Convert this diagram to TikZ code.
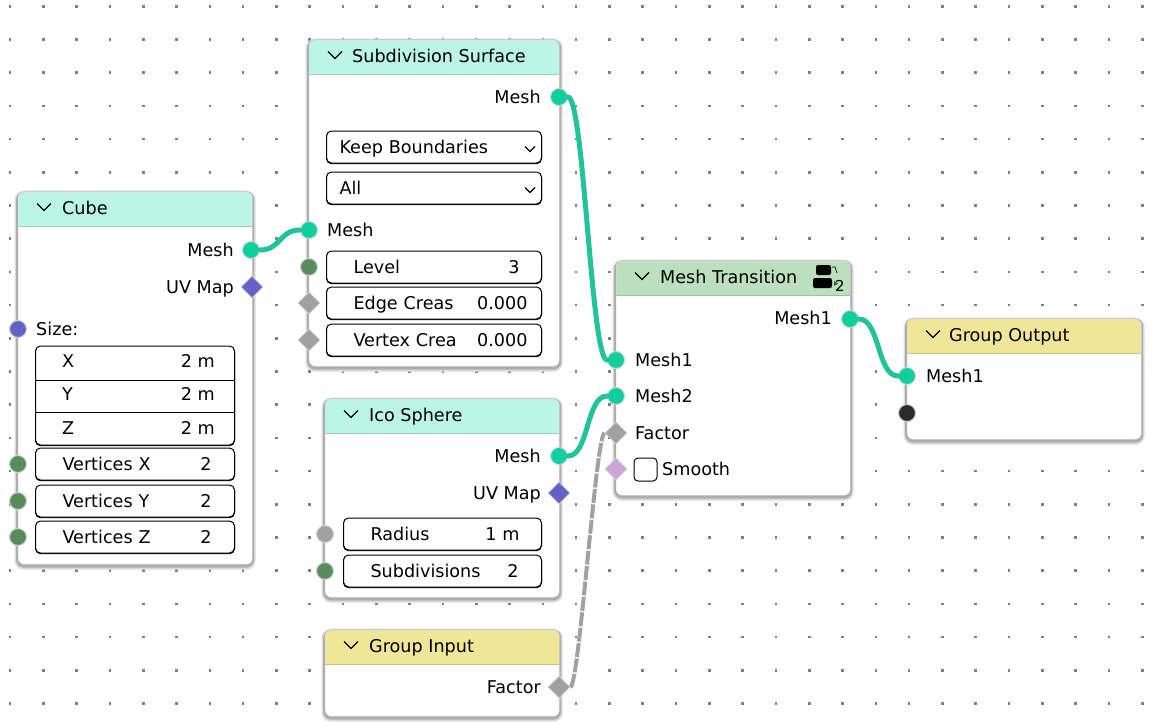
\documentclass[tikz,border=0pt]{standalone}
\usepackage{fontspec}
\setmainfont{DejaVu Sans}
\usetikzlibrary{shapes.geometric}
\definecolor{headteal}{HTML}{BAF5E5}
\definecolor{headgreen}{HTML}{BCE0BE}
\definecolor{headyellow}{HTML}{F0E69A}
\definecolor{sockmesh}{HTML}{10CF9F}
\definecolor{sockuv}{HTML}{6363C7}
\definecolor{sockint}{HTML}{598C5C}
\definecolor{sockfloat}{HTML}{A1A1A1}
\definecolor{sockbool}{HTML}{CCA6D6}
\definecolor{sockvirt}{HTML}{2B2B2B}
\newcommand{\fieldrow}[4]{\hspace*{#1pt}#2\hfill #3\hspace*{#4pt}\null}
\begin{document}
\begin{tikzpicture}[
        x=1pt,
        y=-1pt,
        font=\fontsize{17.6}{20}\selectfont
    ]
    \tikzset{
        panel/.style = {rectangle, anchor=north west, inner sep=0pt, rounded corners=6pt, draw=black!12, fill=white, minimum width=234pt,
            preaction={draw=black!14, line width=7pt, transform canvas={yshift=-2pt}},
            preaction={draw=black!32, line width=4pt, transform canvas={yshift=-1.5pt}},
            path picture={\fill[#1, sharp corners] (path picture bounding box.north west) rectangle ([yshift=-34pt]path picture bounding box.north east);
                \draw[#1!85!black, sharp corners] ([yshift=-34pt]path picture bounding box.north west) -- ([yshift=-34pt]path picture bounding box.north east);}},
        title/.style = {anchor=west, inner sep=0pt, text height=15pt, text depth=2pt},
        lab/.style = {anchor=west, inner sep=0pt, text height=15pt, text depth=2pt},
        labr/.style = {anchor=east, inner sep=0pt, text height=15pt, text depth=2pt},
        fieldbox/.style = {rectangle, anchor=west, draw=black, fill=white, rounded corners=5pt, line width=1pt, inner xsep=0pt, inner ysep=0pt, minimum height=32pt, text height=15pt, text depth=2pt,
            preaction={draw=black, line width=1pt, transform canvas={yshift=-0.7pt}}},
        sock/.style = {circle, inner sep=0pt, minimum size=17pt, draw=gray!35, line width=1pt, fill=#1},
        sockd/.style = {diamond, inner sep=0pt, minimum size=22pt, draw=gray!35, line width=0.8pt, fill=#1},
        wire/.style = {line width=5pt, color=sockmesh!85!gray, line cap=round},
        wireg/.style = {line width=4pt, color=sockfloat, dash pattern=on 14pt off 1.5pt},
        griddot/.style = {fill=black!50},
        chev/.pic = {\draw[line width=1.1pt] (-7,-3.5) -- (0,3.5) -- (7,-3.5);},
        chevs/.pic = {\draw[line width=1.2pt] (-5,-2.5) -- (0,2.5) -- (5,-2.5);},
    }
    \useasboundingbox (0,0) rectangle (1156,726);
    \fill[white] (0,0) rectangle (1156,726);
    % grid
    \foreach \k in {0,...,34}
        \foreach \j in {0,...,21}
            \fill[griddot] ({10+33.3*\k-1.3},{6.2+33.2*\j-1.3}) rectangle +(2.6,2.6);
    % panels
    \node[panel=headteal, minimum height=372pt] at (18,192) (cube) {};
    \node[panel=headteal, minimum width=250pt, minimum height=326pt] at (309,40) (subsurf) {};
    \node[panel=headteal, minimum height=198pt] at (325,399) (ico) {};
    \node[panel=headyellow, minimum height=86pt] at (325,630) (input) {};
    \node[panel=headgreen, minimum height=234pt] at (616,261) (trans) {};
    \node[panel=headyellow, minimum height=120pt] at (907,319) (output) {};
    % titles
    \pic at (44,207) {chev};
    \node[title] at (62,208) (cubet) {Cube};
    \pic at (335,55) {chev};
    \node[title] at (352,56) (subsurft) {Subdivision Surface};
    \pic at (351,414) {chev};
    \node[title] at (369,415) (icot) {Ico Sphere};
    \pic at (351,645) {chev};
    \node[title] at (369,646) (inputt) {Group Input};
    \pic at (642,276) {chev};
    \node[title] at (660,277) (transt) {Mesh Transition};
    \pic at (933,334) {chev};
    \node[title] at (949,335) (outputt) {Group Output};
    % stack icon
    \fill[black, rounded corners=2pt] (816,265) rectangle (831,275);
    \fill[black, rounded corners=2pt] (813,278) rectangle (832,288);
    \draw[line width=0.7pt] (832,267) -- (835,267) -- (837,273);
    \fill[black!70] (834,281) -- (838,283.5) -- (834,286) -- cycle;
    \node[inner sep=0pt, font=\fontsize{15}{16}\selectfont] at (840,285.5) (stackn) {2};
    % cube
    \node[labr] at (234,250) (cubemesh) {Mesh};
    \node[labr] at (234,287) (cubeuv) {UV Map};
    \node[lab] at (36,329) (cubesize) {Size:};
    \node[fieldbox, text width=199pt, minimum height=99pt] at (35,395.5) (cubexyz) {};
    \draw[line width=1pt] (35,380) -- (234,380);
    \draw[line width=1pt] (35,412) -- (234,412);
    \node[lab] at (62,361) (cubex) {X};
    \node[labr] at (215,361) (cubexv) {2 m};
    \node[lab] at (62,394) (cubey) {Y};
    \node[labr] at (215,394) (cubeyv) {2 m};
    \node[lab] at (62,428) (cubez) {Z};
    \node[labr] at (215,428) (cubezv) {2 m};
    \node[fieldbox, text width=199pt] at (35,464) (cubevx) {\fieldrow{27}{Vertices X}{2}{23}};
    \node[fieldbox, text width=199pt] at (35,501) (cubevy) {\fieldrow{27}{Vertices Y}{2}{23}};
    \node[fieldbox, text width=199pt] at (35,537) (cubevz) {\fieldrow{27}{Vertices Z}{2}{23}};
    % subdivision surface
    \node[labr] at (541,97) (subout) {Mesh};
    \node[fieldbox, text width=215pt] at (326,147) (subkeep) {\hspace*{13pt}Keep Boundaries};
    \pic at (530,149) {chevs};
    \node[fieldbox, text width=215pt] at (326,188) (suball) {\hspace*{13pt}All};
    \pic at (530,190) {chevs};
    \node[lab] at (327,230) (subin) {Mesh};
    \node[fieldbox, text width=215pt] at (326,267) (sublevel) {\fieldrow{27}{Level}{3}{22}};
    \node[fieldbox, text width=215pt] at (326,303) (subedge) {\fieldrow{27}{Edge Creas}{0.000}{14}};
    \node[fieldbox, text width=215pt] at (326,340) (subvert) {\fieldrow{27}{Vertex Crea}{0.000}{14}};
    % ico sphere
    \node[labr] at (541,456) (icoout) {Mesh};
    \node[labr] at (541,493) (icouv) {UV Map};
    \node[fieldbox, text width=198pt] at (343,534) (icorad) {\fieldrow{27}{Radius}{1 m}{22}};
    \node[fieldbox, text width=198pt] at (343,571) (icosub) {\fieldrow{27}{Subdivisions}{2}{23}};
    % group input
    \node[labr] at (541,687) (inputf) {Factor};
    % mesh transition
    \node[labr] at (832,318) (transout) {Mesh1};
    \node[lab] at (635,360) (transa) {Mesh1};
    \node[lab] at (635,396) (transb) {Mesh2};
    \node[lab] at (635,433) (transf) {Factor};
    \node[rectangle, draw=black, fill=white, rounded corners=4pt, line width=1pt, inner sep=0pt, minimum size=23pt] at (645.5,469.5) (transc) {};
    \node[lab] at (662,469) (transs) {Smooth};
    % group output
    \node[lab] at (926,376) (outputm) {Mesh1};
    % sockets
    \node[sock=sockmesh] at (251,250) (s1) {};
    \node[sockd=sockuv] at (252,287) (s2) {};
    \node[sock=sockuv] at (18,329) (s3) {};
    \node[sock=sockint] at (18,464) (s4) {};
    \node[sock=sockint] at (18,501) (s5) {};
    \node[sock=sockint] at (18,537) (s6) {};
    \node[sock=sockmesh] at (559,97) (s7) {};
    \node[sock=sockmesh] at (309,230) (s8) {};
    \node[sock=sockint] at (309,267) (s9) {};
    \node[sockd=sockfloat] at (309,303) (s10) {};
    \node[sockd=sockfloat] at (309,340) (s11) {};
    \node[sock=sockmesh] at (559,456) (s12) {};
    \node[sockd=sockuv] at (559,493) (s13) {};
    \node[sock=sockfloat] at (325,534) (s14) {};
    \node[sock=sockint] at (325,571) (s15) {};
    \node[sockd=sockfloat] at (559,687) (s16) {};
    \node[sock=sockmesh] at (850,319) (s17) {};
    \node[sock=sockmesh] at (616,360) (s18) {};
    \node[sock=sockmesh] at (616,396) (s19) {};
    \node[sockd=sockfloat] at (616,433) (s20) {};
    \node[sockd=sockbool] at (616,469) (s21) {};
    \node[sock=sockmesh] at (907,376) (s22) {};
    \node[sock=sockvirt] at (907,413) (s23) {};
    % wires
    \draw[wire] (s1) .. controls +(30,0) and +(-30,0) .. (s8);
    \draw[wire] (s7) .. controls +(25,0) and +(-25,0) .. (s18);
    \draw[wire] (s12) .. controls +(30,0) and +(-30,0) .. (s19);
    \draw[wire] (s17) .. controls +(30,0) and +(-30,0) .. (s22);
    \draw[wireg] (s16) .. controls +(20,0) and +(-20,0) .. (s20);
\end{tikzpicture}
\end{document}
